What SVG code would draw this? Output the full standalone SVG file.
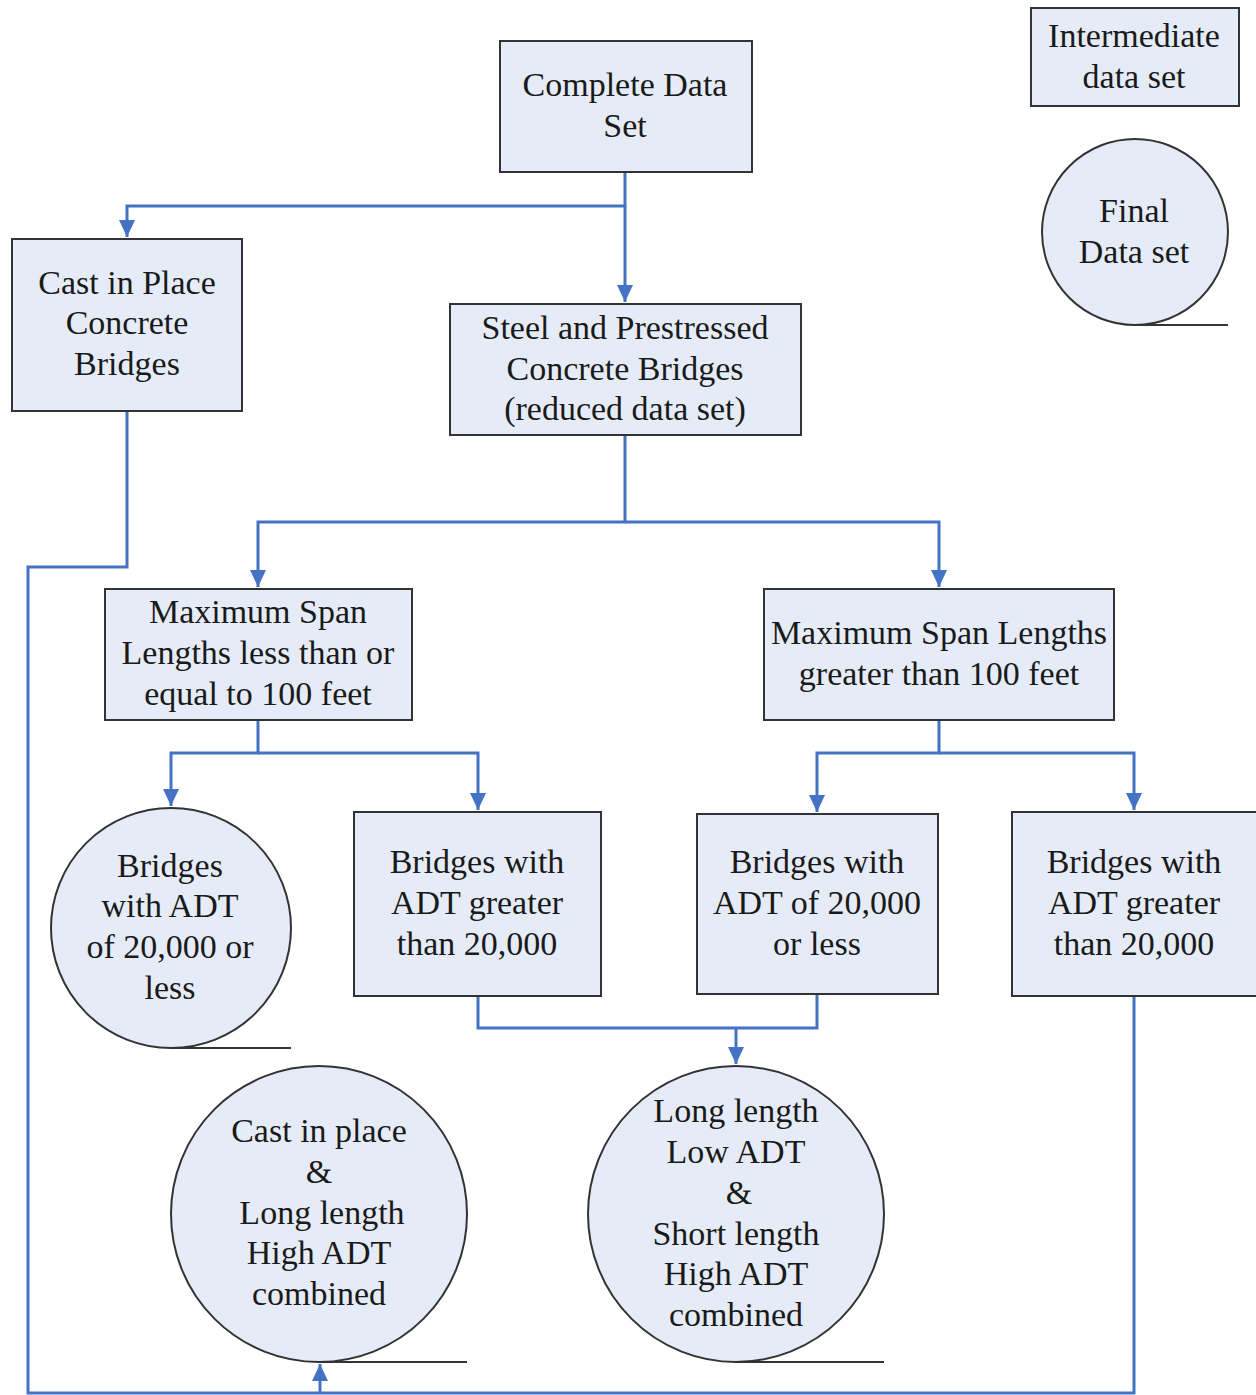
<svg xmlns="http://www.w3.org/2000/svg" width="1256" height="1395" viewBox="0 0 1256 1395">
<defs>
<marker id="arr" markerUnits="userSpaceOnUse" markerWidth="18" markerHeight="16" refX="17" refY="8" orient="auto">
<path d="M0,0 L17,8 L0,16 z" fill="#4472C4"/>
</marker>
<style>
.box{fill:#E6ECF7;stroke:#333;stroke-width:2}
.tail{stroke:#333;stroke-width:2;fill:none}
.con{fill:none;stroke:#4472C4;stroke-width:3}
text{font-family:'Liberation Serif','DejaVu Serif','Times New Roman',Times,serif;font-size:34px;fill:#1a1a1a;text-anchor:middle}
</style>
</defs>
<rect width="1256" height="1395" fill="#fff"/>
<g id="connectors">
<path class="con" d="M625,172 V206 H127 V237" marker-end="url(#arr)"/>
<path class="con" d="M625,206 V302" marker-end="url(#arr)"/>
<path class="con" d="M625,435 V522 H258 V587" marker-end="url(#arr)"/>
<path class="con" d="M625,522 H939 V587" marker-end="url(#arr)"/>
<path class="con" d="M258,720 V753 H171 V806" marker-end="url(#arr)"/>
<path class="con" d="M258,753 H478 V810" marker-end="url(#arr)"/>
<path class="con" d="M939,720 V753 H817 V812" marker-end="url(#arr)"/>
<path class="con" d="M939,753 H1134 V810" marker-end="url(#arr)"/>
<path class="con" d="M478,996 V1028 H817 V994"/>
<path class="con" d="M736,1028 V1064" marker-end="url(#arr)"/>
<path class="con" d="M127,411 V567 H28 V1393 H1134 V996"/>
<path class="con" d="M320,1393 V1364" marker-end="url(#arr)"/>
</g>
<g id="complete">
<rect class="box" x="500" y="41" width="252" height="131"/>
<text x="625" y="96">Complete Data</text>
<text x="625" y="137">Set</text>
</g>
<g id="intermediate">
<rect class="box" x="1031" y="8" width="208" height="98"/>
<text x="1134" y="47">Intermediate</text>
<text x="1134" y="88">data set</text>
</g>
<g id="final">
<circle class="box" cx="1135" cy="232" r="93"/>
<line class="tail" x1="1135" y1="325" x2="1228" y2="325"/>
<text x="1134" y="222">Final</text>
<text x="1134" y="263">Data set</text>
</g>
<g id="castinplace">
<rect class="box" x="12" y="239" width="230" height="172"/>
<text x="127" y="294">Cast in Place</text>
<text x="127" y="334">Concrete</text>
<text x="127" y="375">Bridges</text>
</g>
<g id="steel">
<rect class="box" x="450" y="304" width="351" height="131"/>
<text x="625" y="339">Steel and Prestressed</text>
<text x="625" y="380">Concrete Bridges</text>
<text x="625" y="420">(reduced data set)</text>
</g>
<g id="maxle">
<rect class="box" x="105" y="589" width="307" height="131"/>
<text x="258" y="623">Maximum Span</text>
<text x="258" y="664">Lengths less than or</text>
<text x="258" y="705">equal to 100 feet</text>
</g>
<g id="maxgt">
<rect class="box" x="764" y="589" width="350" height="131"/>
<text x="939" y="644">Maximum Span Lengths</text>
<text x="939" y="685">greater than 100 feet</text>
</g>
<g id="shortlow">
<circle class="box" cx="171" cy="928" r="120"/>
<line class="tail" x1="171" y1="1048" x2="291" y2="1048"/>
<text x="170" y="877">Bridges</text>
<text x="170" y="917">with ADT</text>
<text x="170" y="958">of 20,000 or</text>
<text x="170" y="999">less</text>
</g>
<g id="shorthigh">
<rect class="box" x="354" y="812" width="247" height="184"/>
<text x="477" y="873">Bridges with</text>
<text x="477" y="914">ADT greater</text>
<text x="477" y="955">than 20,000</text>
</g>
<g id="longlow">
<rect class="box" x="697" y="814" width="241" height="180"/>
<text x="817" y="873">Bridges with</text>
<text x="817" y="914">ADT of 20,000</text>
<text x="817" y="955">or less</text>
</g>
<g id="longhigh">
<rect class="box" x="1012" y="812" width="250" height="184"/>
<text x="1134" y="873">Bridges with</text>
<text x="1134" y="914">ADT greater</text>
<text x="1134" y="955">than 20,000</text>
</g>
<g id="castcombined">
<circle class="box" cx="319" cy="1214" r="148"/>
<line class="tail" x1="319" y1="1362" x2="467" y2="1362"/>
<text x="319" y="1142">Cast in place</text>
<text x="319" y="1183">&amp;</text>
<text x="322" y="1224">Long length</text>
<text x="319" y="1264">High ADT</text>
<text x="319" y="1305">combined</text>
</g>
<g id="combined">
<circle class="box" cx="736" cy="1214" r="148"/>
<line class="tail" x1="736" y1="1362" x2="884" y2="1362"/>
<text x="736" y="1122">Long length</text>
<text x="736" y="1163">Low ADT</text>
<text x="739" y="1204">&amp;</text>
<text x="736" y="1245">Short length</text>
<text x="736" y="1285">High ADT</text>
<text x="736" y="1326">combined</text>
</g>
</svg>
